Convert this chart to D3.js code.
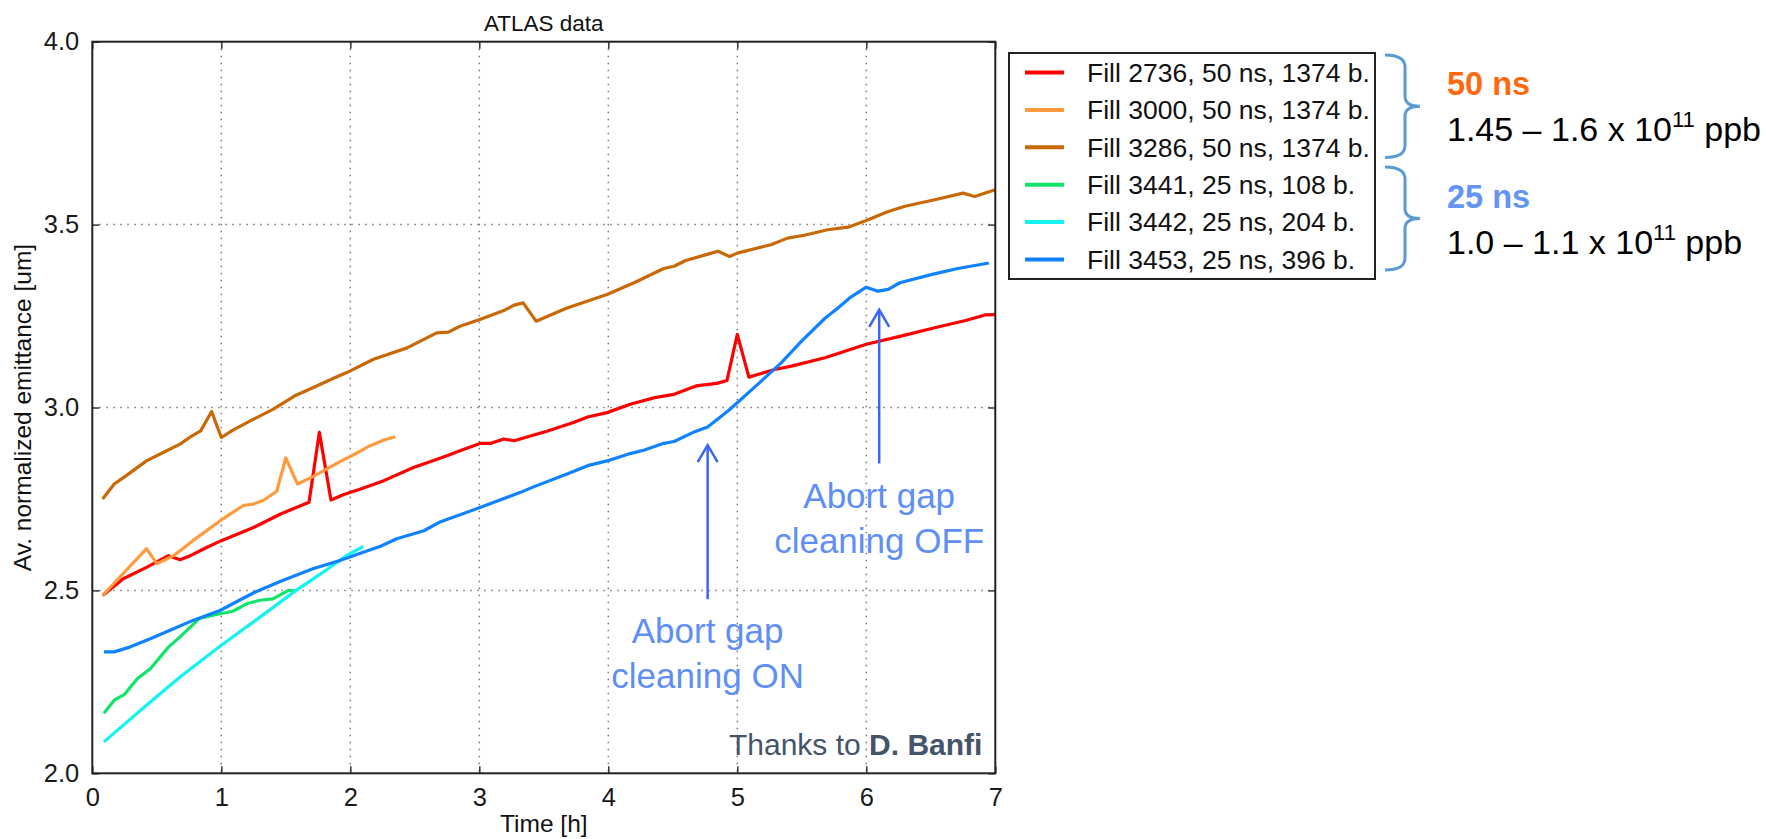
<!DOCTYPE html>
<html>
<head>
<meta charset="utf-8">
<script src="https://cdn.jsdelivr.net/npm/d3@7"></script>
<style>
body { margin: 0; background: #fff; }
text { font-family: "Liberation Sans", Arial, sans-serif; }
</style>
</head>
<body>
<script>
// Time [h] and emittance [um], one pair of arrays per fill
var fill2736_t = [0.08, 0.24, 0.42, 0.59, 0.68, 0.76, 0.89, 1.0, 1.25, 1.46, 1.68, 1.76, 1.85, 1.95, 2.08, 2.26, 2.49, 2.75, 2.85, 3.01, 3.09, 3.19, 3.27, 3.53, 3.73, 3.84, 3.99, 4.17, 4.36, 4.51, 4.68, 4.84, 4.92, 5.0, 5.09, 5.29, 5.42, 5.68, 6.0, 6.3, 6.53, 6.77, 6.92, 7.0];
var fill2736_v = [2.486, 2.532, 2.563, 2.595, 2.584, 2.595, 2.618, 2.636, 2.672, 2.709, 2.741, 2.932, 2.747, 2.762, 2.777, 2.8, 2.836, 2.868, 2.882, 2.902, 2.902, 2.914, 2.909, 2.936, 2.959, 2.974, 2.986, 3.009, 3.027, 3.036, 3.059, 3.066, 3.074, 3.2, 3.083, 3.104, 3.113, 3.136, 3.173, 3.198, 3.218, 3.238, 3.253, 3.254];

var fill3000_t = [0.08, 0.42, 0.5, 0.63, 0.78, 1.01, 1.17, 1.25, 1.33, 1.43, 1.5, 1.59, 1.71, 1.92, 2.01, 2.15, 2.26, 2.35];
var fill3000_v = [2.486, 2.614, 2.573, 2.595, 2.636, 2.695, 2.732, 2.736, 2.747, 2.771, 2.862, 2.791, 2.811, 2.852, 2.868, 2.895, 2.911, 2.92];

var fill3286_t = [0.08, 0.17, 0.26, 0.42, 0.55, 0.68, 0.77, 0.84, 0.925, 1.0, 1.09, 1.25, 1.4, 1.57, 1.71, 1.87, 2.0, 2.18, 2.44, 2.67, 2.76, 2.85, 3.01, 3.19, 3.27, 3.34, 3.44, 3.68, 3.99, 4.2, 4.43, 4.51, 4.6, 4.78, 4.85, 4.94, 5.0, 5.26, 5.39, 5.52, 5.7, 5.86, 6.0, 6.17, 6.3, 6.53, 6.75, 6.84, 7.0];
var fill3286_v = [2.75, 2.791, 2.813, 2.854, 2.877, 2.9, 2.922, 2.936, 2.989, 2.918, 2.938, 2.968, 2.995, 3.032, 3.054, 3.08, 3.1, 3.132, 3.163, 3.204, 3.206, 3.222, 3.241, 3.265, 3.28, 3.286, 3.236, 3.272, 3.309, 3.341, 3.38, 3.386, 3.402, 3.42, 3.427, 3.413, 3.422, 3.445, 3.463, 3.471, 3.486, 3.493, 3.511, 3.536, 3.55, 3.568, 3.586, 3.577, 3.595];

var fill3441_t = [0.09, 0.17, 0.25, 0.35, 0.45, 0.59, 0.68, 0.83, 0.96, 1.09, 1.2, 1.3, 1.4, 1.52, 1.58];
var fill3441_v = [2.164, 2.2, 2.216, 2.259, 2.286, 2.345, 2.373, 2.423, 2.434, 2.443, 2.464, 2.473, 2.477, 2.5, 2.498];

var fill3442_t = [0.09, 0.42, 0.68, 1.0, 1.3, 1.58, 1.77, 1.97, 2.1];
var fill3442_v = [2.086, 2.186, 2.263, 2.35, 2.427, 2.5, 2.545, 2.595, 2.62];

var fill3453_t = [0.09, 0.17, 0.29, 0.45, 0.63, 0.78, 0.99, 1.14, 1.26, 1.46, 1.71, 1.92, 2.1, 2.23, 2.36, 2.57, 2.69, 3.01, 3.32, 3.42, 3.68, 3.84, 3.99, 4.17, 4.28, 4.43, 4.51, 4.67, 4.77, 4.93, 5.0, 5.16, 5.34, 5.5, 5.68, 5.78, 5.88, 6.0, 6.09, 6.17, 6.26, 6.51, 6.71, 6.95];
var fill3453_v = [2.332, 2.332, 2.345, 2.368, 2.395, 2.418, 2.445, 2.473, 2.495, 2.525, 2.559, 2.582, 2.604, 2.62, 2.641, 2.663, 2.686, 2.727, 2.768, 2.783, 2.818, 2.841, 2.854, 2.874, 2.884, 2.902, 2.907, 2.934, 2.947, 2.991, 3.013, 3.064, 3.122, 3.182, 3.244, 3.272, 3.302, 3.329, 3.318, 3.323, 3.341, 3.364, 3.38, 3.395];

var fill_names = ["Fill 2736, 50 ns, 1374 b.", "Fill 3000, 50 ns, 1374 b.", "Fill 3286, 50 ns, 1374 b.",
                  "Fill 3441, 25 ns, 108 b.", "Fill 3442, 25 ns, 204 b.", "Fill 3453, 25 ns, 396 b."];
var fill_colors = ["#ff0000", "#ff9b3d", "#c96806", "#12e46a", "#14f2f2", "#0f82ff"];

var x_ticks = [0, 1, 2, 3, 4, 5, 6, 7];
var y_ticks = [2.0, 2.5, 3.0, 3.5, 4.0];

// arrows: time, tip and tail emittance
var arrow_t = [4.77, 6.10];
var arrow_tip = [2.897, 3.267];
var arrow_tail = [2.476, 2.847];
var arrow_labels = [["Abort gap", "cleaning ON"], ["Abort gap", "cleaning OFF"]];
var arrow_label_v = [2.357, 2.726];

var fills = [
    [fill2736_t, fill2736_v], [fill3000_t, fill3000_v], [fill3286_t, fill3286_v],
    [fill3441_t, fill3441_v], [fill3442_t, fill3442_v], [fill3453_t, fill3453_v]
];

var margin = {left: 92.3, top: 41.7};
var width = 903, height = 731.6;

var svg = d3.select("body").append("svg").attr("width", 1766).attr("height", 839);
var g = svg.append("g").attr("transform", "translate(" + margin.left + "," + margin.top + ")");

var x = d3.scaleLinear().domain([0, 7]).range([0, width]);
var y = d3.scaleLinear().domain([2, 4]).range([height, 0]);

// dotted grid
g.append("g").selectAll("line").data(x_ticks.slice(1, -1)).enter().append("line")
    .attr("x1", d => x(d)).attr("x2", d => x(d)).attr("y1", 0).attr("y2", height)
    .attr("stroke", "#777").attr("stroke-width", 1.5).attr("stroke-dasharray", "1.5,5.5");
g.append("g").selectAll("line").data(y_ticks.slice(1, -1)).enter().append("line")
    .attr("y1", d => y(d)).attr("y2", d => y(d)).attr("x1", 0).attr("x2", width)
    .attr("stroke", "#777").attr("stroke-width", 1.5).attr("stroke-dasharray", "1.5,5.5");

// lines
var line = d3.line().x(d => x(d[0])).y(d => y(d[1]));
fills.forEach(function(f, i) {
    var pts = f[0].map((t, j) => [t, f[1][j]]);
    g.append("path").datum(pts).attr("d", line)
        .attr("fill", "none").attr("stroke", fill_colors[i])
        .attr("stroke-width", 3.2).attr("stroke-linejoin", "round");
});

// axes with inward ticks
function styleAxis(sel) {
    sel.select(".domain").remove();
    sel.selectAll(".tick line").attr("stroke", "#333").attr("stroke-width", 1.5);
    sel.selectAll("text").attr("font-size", 25.5).attr("fill", "#1a1a1a")
        .attr("font-family", "'Liberation Sans', Arial, sans-serif");
}
g.append("g").attr("transform", "translate(0," + height + ")")
    .call(d3.axisBottom(x).tickValues(x_ticks).tickFormat(d3.format("d")).tickSize(-7).tickPadding(15))
    .call(styleAxis);
g.append("g")
    .call(d3.axisLeft(y).tickValues(y_ticks).tickFormat(d3.format(".1f")).tickSize(-7).tickPadding(13))
    .call(styleAxis);
g.append("g")
    .call(d3.axisTop(x).tickValues(x_ticks).tickFormat("").tickSize(-7))
    .call(styleAxis);
g.append("g").attr("transform", "translate(" + width + ",0)")
    .call(d3.axisRight(y).tickValues(y_ticks).tickFormat("").tickSize(-7))
    .call(styleAxis);

g.append("rect").attr("width", width).attr("height", height)
    .attr("fill", "none").attr("stroke", "#222").attr("stroke-width", 2);

// titles
svg.append("text").attr("x", margin.left + width / 2).attr("y", 31)
    .attr("text-anchor", "middle").attr("font-size", 22.5).attr("fill", "#111").text("ATLAS data");
svg.append("text").attr("x", margin.left + width / 2).attr("y", 832)
    .attr("text-anchor", "middle").attr("font-size", 24.5).attr("fill", "#111").text("Time [h]");
svg.append("text").attr("transform", "translate(31," + (margin.top + height / 2) + ") rotate(-90)")
    .attr("text-anchor", "middle").attr("font-size", 24.5).attr("fill", "#111")
    .text("Av. normalized emittance [um]");

// arrows and their labels
var blue_note = "#5f8ff6";
arrow_t.forEach(function(t, i) {
    var ax = x(t), tip = y(arrow_tip[i]), tail = y(arrow_tail[i]);
    g.append("line").attr("x1", ax).attr("x2", ax).attr("y1", tip).attr("y2", tail)
        .attr("stroke", "#3a66f2").attr("stroke-width", 2.5);
    g.append("path").attr("d", "M" + (ax - 10) + "," + (tip + 17) + "L" + ax + "," + tip + "L" + (ax + 10) + "," + (tip + 17))
        .attr("fill", "none").attr("stroke", "#3a66f2").attr("stroke-width", 2.5);
    var lab = g.append("text").attr("text-anchor", "middle").attr("font-family", "Lato, sans-serif")
        .attr("font-size", 35).attr("fill", blue_note);
    arrow_labels[i].forEach(function(s, k) {
        lab.append("tspan").attr("x", ax).attr("y", y(arrow_label_v[i]) + k * 45).text(s);
    });
});

var thanks = g.append("text").attr("x", x(6.9)).attr("y", y(2.05)).attr("text-anchor", "end")
    .attr("font-family", "Lato, sans-serif").attr("font-size", 30).attr("fill", "#44546a");
thanks.append("tspan").text("Thanks to ");
thanks.append("tspan").attr("font-weight", "bold").text("D. Banfi");

// legend
var legend = svg.append("g").attr("transform", "translate(1009,53)");
legend.append("rect").attr("width", 366).attr("height", 226)
    .attr("fill", "#fff").attr("stroke", "#222").attr("stroke-width", 2);
fill_names.forEach(function(name, i) {
    var ly = 19.5 + i * 37.4;
    legend.append("line").attr("x1", 16).attr("x2", 55).attr("y1", ly).attr("y2", ly)
        .attr("stroke", fill_colors[i]).attr("stroke-width", 4);
    legend.append("text").attr("x", 78).attr("y", ly).attr("dy", "0.35em")
        .attr("font-size", 26.5).attr("fill", "#111").text(name);
});

// braces and beam notes
var brace_top = [55, 167];
var brace_bot = [157.5, 270];
brace_top.forEach(function(t, i) {
    var b = brace_bot[i], m = (t + b) / 2;
    svg.append("path")
        .attr("d", "M1385," + t + "Q1405," + t + " 1405," + (t + 12) + "L1405," + (m - 10) +
            "Q1405," + m + " 1420," + m + "Q1405," + m + " 1405," + (m + 10) +
            "L1405," + (b - 12) + "Q1405," + b + " 1385," + b)
        .attr("fill", "none").attr("stroke", "#5b9bd5").attr("stroke-width", 3);
});

var note_heads = ["50 ns", "25 ns"];
var note_head_colors = ["#ff6a10", "#6495f5"];
var note_ranges = ["1.45 \u2013 1.6 x 10", "1.0 \u2013 1.1 x 10"];
var note_y = [95, 208.3];
note_heads.forEach(function(h, i) {
    svg.append("text").attr("x", 1447).attr("y", note_y[i])
        .attr("font-family", "Lato, sans-serif").attr("font-weight", "bold")
        .attr("font-size", 32.5).attr("fill", note_head_colors[i]).text(h);
    var t = svg.append("text").attr("x", 1447).attr("y", note_y[i] + 45.7)
        .attr("font-family", "Lato, sans-serif").attr("font-size", 34).attr("fill", "#000");
    t.append("tspan").text(note_ranges[i]);
    t.append("tspan").attr("dy", -14).attr("font-size", 22).text("11");
    t.append("tspan").attr("dy", 14).text(" ppb");
});
</script>
</body>
</html>
